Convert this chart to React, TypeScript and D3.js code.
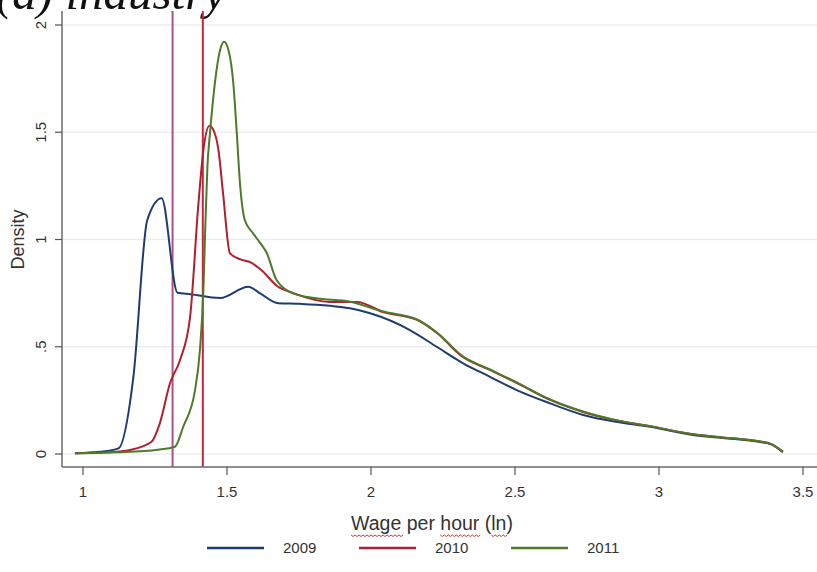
import React, { useLayoutEffect, useRef, useState } from 'react';
import * as d3 from 'd3';

const width = 817;
const height = 572;

// tick values and labels
const xTicks = [1, 1.5, 2, 2.5, 3, 3.5];
const xTickLabels = ['1', '1.5', '2', '2.5', '3', '3.5'];
const yTicks = [0, 0.5, 1, 1.5, 2];
const yTickLabels = ['0', '.5', '1', '1.5', '2'];

const years = ['2009', '2010', '2011'];
const colors = ['#1d3c70', '#b0202e', '#4d7a2b'];

// vertical reference lines (ln wage)
const cutoffs = [1.311, 1.416];
const cutoffColors = ['#a9528a', '#c4263a'];

// kernel densities
const wage2009 = [0.972, 1.06, 1.123, 1.175, 1.223, 1.273, 1.328, 1.373, 1.476, 1.574, 1.615, 1.678, 1.753, 1.927, 1.997, 2.135, 2.228, 2.32, 2.413, 2.506, 2.622, 2.737, 2.85, 2.969, 3.118, 3.22, 3.351, 3.39, 3.43];
const density2009 = [0.003, 0.01, 0.026, 0.36, 1.09, 1.192, 0.752, 0.745, 0.727, 0.78, 0.749, 0.703, 0.7, 0.679, 0.656, 0.578, 0.5, 0.423, 0.36, 0.298, 0.236, 0.182, 0.15, 0.127, 0.089, 0.075, 0.056, 0.045, 0.01];

const wage2010 = [0.972, 1.09, 1.163, 1.238, 1.267, 1.302, 1.337, 1.372, 1.4, 1.418, 1.439, 1.456, 1.47, 1.486, 1.51, 1.547, 1.582, 1.617, 1.676, 1.73, 1.858, 1.951, 2.042, 2.16, 2.229, 2.319, 2.413, 2.507, 2.622, 2.736, 2.85, 2.969, 3.118, 3.22, 3.351, 3.39, 3.43];
const density2010 = [0.003, 0.008, 0.019, 0.057, 0.144, 0.33, 0.438, 0.64, 1.153, 1.417, 1.53, 1.5, 1.42, 1.22, 0.937, 0.907, 0.893, 0.86, 0.781, 0.75, 0.709, 0.709, 0.662, 0.625, 0.564, 0.452, 0.392, 0.331, 0.252, 0.196, 0.158, 0.13, 0.092, 0.077, 0.058, 0.046, 0.01];

const wage2011 = [0.972, 1.12, 1.26, 1.319, 1.348, 1.389, 1.406, 1.418, 1.424, 1.432, 1.441, 1.458, 1.476, 1.49, 1.505, 1.522, 1.534, 1.545, 1.562, 1.59, 1.615, 1.638, 1.672, 1.73, 1.811, 1.927, 2.042, 2.16, 2.229, 2.319, 2.413, 2.507, 2.622, 2.736, 2.85, 2.969, 3.118, 3.22, 3.351, 3.39, 3.43];
const density2011 = [0.003, 0.008, 0.02, 0.034, 0.127, 0.298, 0.485, 0.765, 1.03, 1.34, 1.496, 1.73, 1.883, 1.922, 1.883, 1.728, 1.496, 1.263, 1.09, 1.03, 0.984, 0.937, 0.811, 0.749, 0.726, 0.71, 0.664, 0.627, 0.566, 0.455, 0.394, 0.333, 0.254, 0.198, 0.158, 0.13, 0.092, 0.077, 0.058, 0.046, 0.01];

const series = [
  { wage: wage2009, density: density2009 },
  { wage: wage2010, density: density2010 },
  { wage: wage2011, density: density2011 },
];

const font = '"Liberation Sans", Arial, sans-serif';
const axisTitle = 'Wage per hour (ln)';
// words flagged by the spell checker in the source screenshot
const squiggleRanges = [[0, 3], [9, 12], [15, 16]];

const App = () => {
  const plot = { left: 62, right: 817, top: 11, bottom: 467 };
  const x = d3.scaleLinear().domain([1, 3.5]).range([83, 803]);
  const y = d3.scaleLinear().domain([0, 2]).range([454, 25]);

  const line = d3.line<[number, number]>()
    .x(d => x(d[0]))
    .y(d => y(d[1]))
    .curve(d3.curveMonotoneX);

  const titleRef = useRef<SVGTextElement>(null);
  const [squiggles, setSquiggles] = useState<string[]>([]);

  useLayoutEffect(() => {
    const el = titleRef.current;
    if (!el) return;
    const paths = squiggleRanges.map(([a, b]) => {
      const s = el.getExtentOfChar(a);
      const e = el.getExtentOfChar(b);
      const x0 = s.x;
      const x1 = e.x + e.width;
      const yy = s.y + s.height + 1;
      let d = `M${x0},${yy}`;
      for (let xx = x0, k = 0; xx < x1; xx += 2, k++) {
        d += ` L${xx + 2},${yy + (k % 2 === 0 ? 1.5 : 0)}`;
      }
      return d;
    });
    setSquiggles(paths);
  }, []);

  return (
    <svg width={width} height={height} viewBox={`0 0 ${width} ${height}`}
      style={{ position: 'absolute', left: 0, top: 0, background: '#fff' }}>
      <rect width={width} height={height} fill="#fff" />

      <text x={-4} y={9} fontFamily='"Liberation Serif", serif' fontStyle="italic"
        fontSize={49} fill="#111">(a) industry</text>

      {/* grid */}
      {yTicks.map(t => (
        <line key={`g${t}`} x1={plot.left} x2={plot.right} y1={y(t)} y2={y(t)}
          stroke="#ebeef0" strokeWidth={1.5} />
      ))}

      {/* reference lines */}
      {cutoffs.map((c, i) => (
        <line key={`c${i}`} x1={x(c)} x2={x(c)} y1={plot.top} y2={plot.bottom}
          stroke={cutoffColors[i]} strokeWidth={2} />
      ))}

      {/* densities */}
      {series.map((s, i) => (
        <path key={years[i]}
          d={line(s.wage.map((w, j) => [w, s.density[j]] as [number, number])) || ''}
          fill="none" stroke={colors[i]} strokeWidth={2} strokeLinejoin="round" />
      ))}

      {/* axes */}
      <line x1={plot.left} x2={plot.left} y1={plot.top} y2={plot.bottom} stroke="#6a6a6a" strokeWidth={1.5} />
      <line x1={plot.left} x2={plot.right} y1={plot.bottom} y2={plot.bottom} stroke="#6a6a6a" strokeWidth={1.5} />

      {yTicks.map((t, i) => (
        <g key={`yt${t}`}>
          <line x1={plot.left - 7} x2={plot.left} y1={y(t)} y2={y(t)} stroke="#555" strokeWidth={1.2} />
          <text transform={`translate(46,${y(t)}) rotate(-90)`} textAnchor="middle"
            fontFamily={font} fontSize={15} fill="#333">{yTickLabels[i]}</text>
        </g>
      ))}
      <text transform={`translate(24,${y(1)}) rotate(-90)`} textAnchor="middle"
        fontFamily={font} fontSize={18} fill="#333">Density</text>

      {xTicks.map((t, i) => (
        <g key={`xt${t}`}>
          <line x1={x(t)} x2={x(t)} y1={plot.bottom} y2={plot.bottom + 8} stroke="#555" strokeWidth={1.2} />
          <text x={x(t)} y={497} textAnchor="middle" fontFamily={font} fontSize={15}
            fill="#333">{xTickLabels[i]}</text>
        </g>
      ))}

      <text ref={titleRef} x={432} y={530} textAnchor="middle" fontFamily={font}
        fontSize={19.5} fill="#333">{axisTitle}</text>
      {squiggles.map((d, i) => (
        <path key={`sq${i}`} d={d} fill="none" stroke="#d9342b" strokeWidth={1} />
      ))}

      {/* legend */}
      {years.map((yr, i) => {
        const lx = 207 + i * 152;
        return (
          <g key={`lg${yr}`}>
            <line x1={lx} x2={lx + 57} y1={548} y2={548} stroke={colors[i]} strokeWidth={2.5} />
            <text x={lx + 76} y={553} fontFamily={font} fontSize={15} fill="#333">{yr}</text>
          </g>
        );
      })}
    </svg>
  );
};

export default App;
